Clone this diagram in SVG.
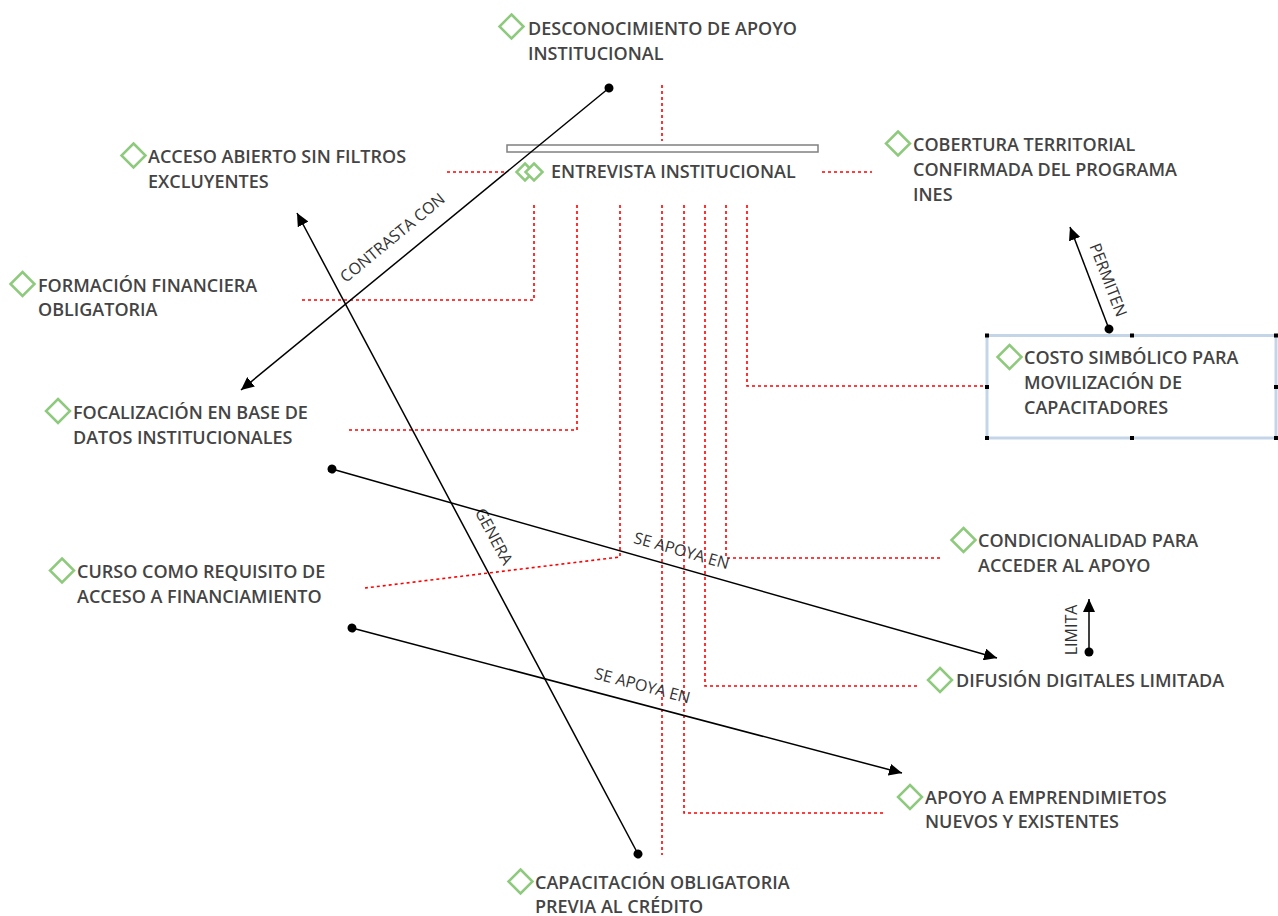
<svg xmlns="http://www.w3.org/2000/svg" width="1278" height="916" viewBox="0 0 1278 916">
<style>
.t{font-family:"Open Sans","Liberation Sans",sans-serif;font-size:18px;font-weight:600;fill:#444}
.l{font-family:"Open Sans","Liberation Sans",sans-serif;font-size:16px;fill:#333;text-anchor:middle}
.d{fill:#fff;stroke:#8dca7c;stroke-width:2.5}
.r{fill:none;stroke:#ff0000;stroke-width:1.6;stroke-dasharray:3 3}
.c{fill:none;stroke:#000;stroke-width:1.5}
.h{fill:#000}
</style>
<defs>
<marker id="ar" markerUnits="userSpaceOnUse" markerWidth="14" markerHeight="12" refX="13" refY="6" orient="auto" viewBox="0 0 14 12"><path d="M0,0 L13,6 L0,12 z" fill="#000"/></marker>
<marker id="dt" markerUnits="userSpaceOnUse" markerWidth="10" markerHeight="10" refX="5" refY="5" orient="auto" viewBox="0 0 10 10"><circle cx="5" cy="5" r="4.5" fill="#000"/></marker>
</defs>
<rect width="1278" height="916" fill="#fff"/>

<g id="dotted-links">
<path class="r" d="M662,85 V141"/>
<path class="r" d="M447,172 H505"/>
<path class="r" d="M822,172 H872"/>
<path class="r" d="M534,205 V300 H300"/>
<path class="r" d="M577,205 V430 H348"/>
<path class="r" d="M620,205 V557 L365,588"/>
<path class="r" d="M662,205 V855"/>
<path class="r" d="M684,205 V813 H884"/>
<path class="r" d="M705,205 V686 H918"/>
<path class="r" d="M726,205 V558 H942"/>
<path class="r" d="M747,205 V386 H986"/>
</g>

<g id="n-entrevista">
<rect x="507" y="145" width="311" height="7" fill="#fff" stroke="#808080" stroke-width="1.5"/>
<path class="d" d="M525,163.5 L533.5,172 L525,180.5 L516.5,172 z"/>
<path class="d" d="M534,163.5 L542.5,172 L534,180.5 L525.5,172 z"/>
<text class="t" x="551" y="178">ENTREVISTA INSTITUCIONAL</text>
</g>

<g id="n-desconocimiento">
<path class="d" d="M511.5,14.5 L523.5,26.5 L511.5,38.5 L499.5,26.5 z"/>
<text class="t" x="528" y="35">DESCONOCIMIENTO DE APOYO<tspan x="528" y="60">INSTITUCIONAL</tspan></text>
</g>

<g id="n-acceso">
<path class="d" d="M133.5,143.5 L145.5,155.5 L133.5,167.5 L121.5,155.5 z"/>
<text class="t" x="148" y="163">ACCESO ABIERTO SIN FILTROS<tspan x="148" y="188">EXCLUYENTES</tspan></text>
</g>

<g id="n-formacion">
<path class="d" d="M22.5,272 L34.5,284 L22.5,296 L10.5,284 z"/>
<text class="t" x="38" y="292">FORMACIÓN FINANCIERA<tspan x="38" y="316">OBLIGATORIA</tspan></text>
</g>

<g id="n-focalizacion">
<path class="d" d="M58,399 L70,411 L58,423 L46,411 z"/>
<text class="t" x="73" y="419">FOCALIZACIÓN EN BASE DE<tspan x="73" y="444">DATOS INSTITUCIONALES</tspan></text>
</g>

<g id="n-curso">
<path class="d" d="M62,558.5 L74,570.5 L62,582.5 L50,570.5 z"/>
<text class="t" x="77" y="578">CURSO COMO REQUISITO DE<tspan x="77" y="603">ACCESO A FINANCIAMIENTO</tspan></text>
</g>

<g id="n-capacitacion">
<path class="d" d="M520.5,869.5 L532.5,881.5 L520.5,893.5 L508.5,881.5 z"/>
<text class="t" x="535" y="889">CAPACITACIÓN OBLIGATORIA<tspan x="535" y="913">PREVIA AL CRÉDITO</tspan></text>
</g>

<g id="n-cobertura">
<path class="d" d="M898,131.5 L910,143.5 L898,155.5 L886,143.5 z"/>
<text class="t" x="913" y="151">COBERTURA TERRITORIAL<tspan x="913" y="176">CONFIRMADA DEL PROGRAMA</tspan><tspan x="913" y="201">INES</tspan></text>
</g>

<g id="n-costo">
<rect x="987" y="335.5" width="289" height="102.5" fill="#fff" stroke="#c5d5e8" stroke-width="3"/>
<rect class="h" x="985" y="333.5" width="4" height="4"/>
<rect class="h" x="1130" y="333.5" width="4" height="4"/>
<rect class="h" x="1274" y="333.5" width="4" height="4"/>
<rect class="h" x="985" y="385" width="4" height="4"/>
<rect class="h" x="1274" y="385" width="4" height="4"/>
<rect class="h" x="985" y="436" width="4" height="4"/>
<rect class="h" x="1130" y="436" width="4" height="4"/>
<rect class="h" x="1274" y="436" width="4" height="4"/>
<path class="d" d="M1009.5,345 L1021.5,357 L1009.5,369 L997.5,357 z"/>
<text class="t" x="1024" y="364">COSTO SIMBÓLICO PARA<tspan x="1024" y="389">MOVILIZACIÓN DE</tspan><tspan x="1024" y="414">CAPACITADORES</tspan></text>
</g>

<g id="n-condicionalidad">
<path class="d" d="M963.5,528 L975.5,540 L963.5,552 L951.5,540 z"/>
<text class="t" x="978" y="547">CONDICIONALIDAD PARA<tspan x="978" y="572">ACCEDER AL APOYO</tspan></text>
</g>

<g id="n-difusion">
<path class="d" d="M940,668 L952,680 L940,692 L928,680 z"/>
<text class="t" x="956" y="687">DIFUSIÓN DIGITALES LIMITADA</text>
</g>

<g id="n-apoyo">
<path class="d" d="M910,785 L922,797 L910,809 L898,797 z"/>
<text class="t" x="925" y="804">APOYO A EMPRENDIMIETOS<tspan x="925" y="828">NUEVOS Y EXISTENTES</tspan></text>
</g>

<g id="connectors">
<path class="c" d="M609,88 L241,390" marker-start="url(#dt)" marker-end="url(#ar)"/>
<text class="l" transform="translate(396,242) rotate(-39.4)">CONTRASTA CON</text>
<path class="c" d="M638,854 L297,213" marker-start="url(#dt)" marker-end="url(#ar)"/>
<text class="l" transform="translate(489,539) rotate(62)">GENERA</text>
<path class="c" d="M332,469 L997,658" marker-start="url(#dt)" marker-end="url(#ar)"/>
<text class="l" transform="translate(680,556) rotate(15.8)">SE APOYA EN</text>
<path class="c" d="M352,628 L902,773" marker-start="url(#dt)" marker-end="url(#ar)"/>
<text class="l" transform="translate(641,691) rotate(14.8)">SE APOYA EN</text>
<path class="c" d="M1109,329 L1070,227" marker-start="url(#dt)" marker-end="url(#ar)"/>
<text class="l" transform="translate(1103,282) rotate(69)">PERMITEN</text>
<path class="c" d="M1089,652 L1089,599" marker-start="url(#dt)" marker-end="url(#ar)"/>
<text class="l" transform="translate(1077,630) rotate(-90)">LIMITA</text>
</g>
</svg>
